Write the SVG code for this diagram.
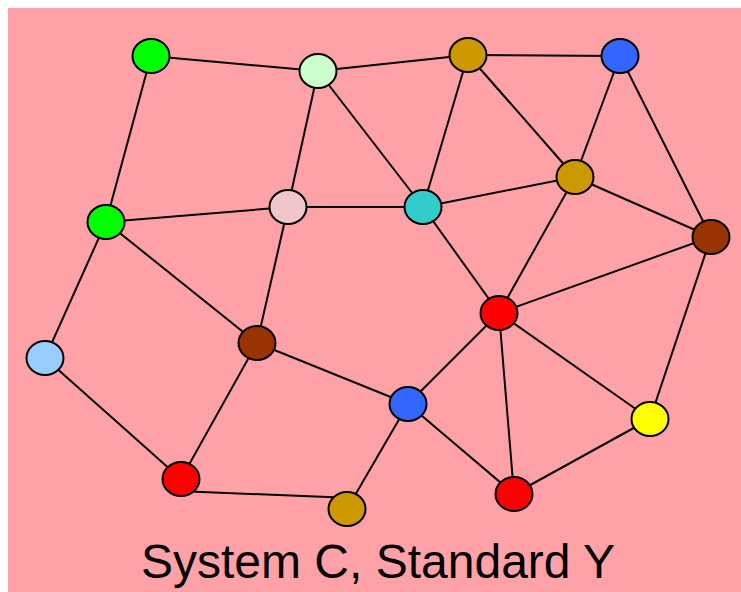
<svg xmlns="http://www.w3.org/2000/svg" width="741" height="592" viewBox="0 0 741 592">
<style>
.e{stroke:#000;stroke-width:2;fill:none}
.n{stroke:#000;stroke-width:2}
.t{font-family:"Liberation Sans",Arial,sans-serif;font-size:48px;fill:#000}
</style>
<rect x="8" y="8" width="733" height="584" fill="#ffa2a8"/>
<g id="connectors" class="e">
<line x1="151" y1="56" x2="318" y2="71"/>
<line x1="151" y1="56" x2="106" y2="222"/>
<line x1="318" y1="71" x2="468" y2="55"/>
<line x1="318" y1="71" x2="288" y2="207"/>
<line x1="318" y1="71" x2="423" y2="207"/>
<line x1="468" y1="55" x2="620" y2="56"/>
<line x1="468" y1="55" x2="423" y2="207"/>
<line x1="468" y1="55" x2="575" y2="177"/>
<line x1="620" y1="56" x2="575" y2="177"/>
<line x1="620" y1="56" x2="711" y2="237"/>
<line x1="575" y1="177" x2="423" y2="207"/>
<line x1="575" y1="177" x2="711" y2="237"/>
<line x1="575" y1="177" x2="499" y2="313"/>
<line x1="106" y1="222" x2="288" y2="207"/>
<line x1="106" y1="222" x2="45" y2="358"/>
<line x1="106" y1="222" x2="257" y2="343"/>
<line x1="288" y1="207" x2="423" y2="207"/>
<line x1="288" y1="207" x2="257" y2="343"/>
<line x1="423" y1="207" x2="499" y2="313"/>
<line x1="711" y1="237" x2="499" y2="313"/>
<line x1="711" y1="237" x2="650" y2="419"/>
<line x1="499" y1="313" x2="408" y2="404"/>
<line x1="499" y1="313" x2="650" y2="419"/>
<line x1="499" y1="313" x2="514" y2="494"/>
<line x1="45" y1="358" x2="181" y2="479"/>
<line x1="257" y1="343" x2="181" y2="479"/>
<line x1="257" y1="343" x2="408" y2="404"/>
<line x1="408" y1="404" x2="347" y2="509"/>
<line x1="408" y1="404" x2="514" y2="494"/>
<line x1="190" y1="491.5" x2="340" y2="497.5"/>
<line x1="514" y1="494" x2="650" y2="419"/>
</g>
<g id="n1"><ellipse class="n" cx="151" cy="56" rx="18.5" ry="17" fill="#00ff00"/></g>
<g id="n2"><ellipse class="n" cx="318" cy="71" rx="18.5" ry="17" fill="#ccffcc"/></g>
<g id="n3"><ellipse class="n" cx="468" cy="55" rx="18.5" ry="17" fill="#cc9900"/></g>
<g id="n4"><ellipse class="n" cx="620" cy="56" rx="18.5" ry="17" fill="#3366ff"/></g>
<g id="n5"><ellipse class="n" cx="575" cy="177" rx="18.5" ry="17" fill="#cc9900"/></g>
<g id="n6"><ellipse class="n" cx="711" cy="237" rx="18.5" ry="17" fill="#993300"/></g>
<g id="n7"><ellipse class="n" cx="106" cy="222" rx="18.5" ry="17" fill="#00ff00"/></g>
<g id="n8"><ellipse class="n" cx="288" cy="207" rx="18.5" ry="17" fill="#eec6cc"/></g>
<g id="n9"><ellipse class="n" cx="423" cy="207" rx="18.5" ry="17" fill="#33cccc"/></g>
<g id="n10"><ellipse class="n" cx="499" cy="313" rx="18.5" ry="17" fill="#ff0000"/></g>
<g id="n11"><ellipse class="n" cx="45" cy="358" rx="18.5" ry="17" fill="#99ccff"/></g>
<g id="n12"><ellipse class="n" cx="257" cy="343" rx="18.5" ry="17" fill="#993300"/></g>
<g id="n13"><ellipse class="n" cx="408" cy="404" rx="18.5" ry="17" fill="#3366ff"/></g>
<g id="n14"><ellipse class="n" cx="650" cy="419" rx="18.5" ry="17" fill="#ffff00"/></g>
<g id="n15"><ellipse class="n" cx="181" cy="479" rx="18.5" ry="17" fill="#ff0000"/></g>
<g id="n16"><ellipse class="n" cx="514" cy="494" rx="18.5" ry="17" fill="#ff0000"/></g>
<g id="n17"><ellipse class="n" cx="347" cy="509" rx="18.5" ry="17" fill="#cc9900"/></g>
<text class="t" x="378" y="578" text-anchor="middle">System C, Standard Y</text>
</svg>
